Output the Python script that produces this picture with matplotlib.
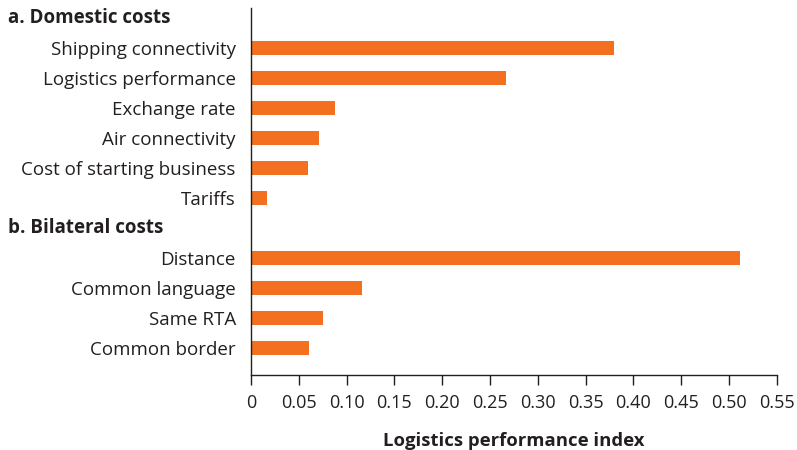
import matplotlib.pyplot as plt
from matplotlib.transforms import blended_transform_factory

domestic_labels = ["Shipping connectivity", "Logistics performance", "Exchange rate",
                   "Air connectivity", "Cost of starting business", "Tariffs"]
domestic_values = [0.380, 0.267, 0.088, 0.071, 0.060, 0.017]
bilateral_labels = ["Distance", "Common language", "Same RTA", "Common border"]
bilateral_values = [0.512, 0.116, 0.075, 0.061]
section_titles = ["a. Domestic costs", "b. Bilateral costs"]
x_ticks = [0, 0.05, 0.10, 0.15, 0.20, 0.25, 0.30, 0.35, 0.40, 0.45, 0.50, 0.55]

plt.rcParams["font.family"] = ["Open Sans", "DejaVu Sans"]
bar_color = "#F37021"
text_color = "#231f20"

fig = plt.figure(figsize=(7.97, 4.5), dpi=100)
ax = fig.add_axes([0.315, 0.1667, 0.9745 - 0.315, 0.982 - 0.1667])

# row 0 and row 7 hold the section titles
rows_a = list(range(1, 1 + len(domestic_labels)))
rows_b = list(range(8, 8 + len(bilateral_labels)))
ax.barh(rows_a, domestic_values, height=0.47, color=bar_color)
ax.barh(rows_b, bilateral_values, height=0.47, color=bar_color)

ax.set_yticks(rows_a + rows_b)
ax.set_yticklabels(domestic_labels + bilateral_labels, fontsize=13.5, color=text_color)
ax.tick_params(axis="y", length=0, pad=11)

title_tf = blended_transform_factory(fig.transFigure, ax.transData)
for row, title in zip([0, 7], section_titles):
    ax.text(0.01, row, title, transform=title_tf, fontsize=13.5, fontweight="bold",
            color=text_color, ha="left", va="center")

ax.set_xlim(0, 0.55)
ax.set_ylim(11.9, -0.33)
ax.set_xticks(x_ticks)
ax.set_xticklabels(["0"] + [f"{t:.2f}" for t in x_ticks[1:]], fontsize=13, color=text_color)
ax.tick_params(axis="x", direction="out", length=7, width=1, pad=7, color=text_color)
ax.set_xlabel("Logistics performance index", fontsize=13.3, fontweight="bold",
              color=text_color, labelpad=14)

for side in ["top", "right"]:
    ax.spines[side].set_visible(False)
for side in ["left", "bottom"]:
    ax.spines[side].set_linewidth(1)
    ax.spines[side].set_color(text_color)

fig.savefig("out.png", dpi=100)
